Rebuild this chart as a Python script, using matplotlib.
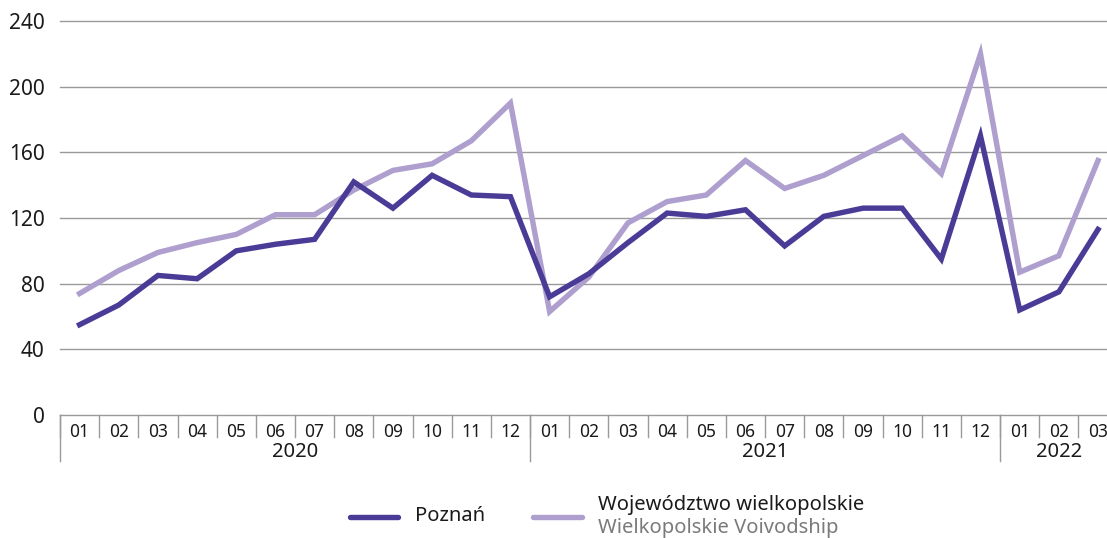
import matplotlib
matplotlib.use('Agg')
import matplotlib.pyplot as plt
from matplotlib import transforms
from matplotlib.lines import Line2D

plt.rcParams['font.family'] = ['Noto Sans', 'DejaVu Sans']

# dane
months = ['01', '02', '03', '04', '05', '06', '07', '08', '09', '10', '11', '12',
          '01', '02', '03', '04', '05', '06', '07', '08', '09', '10', '11', '12',
          '01', '02', '03']
years = ['2020', '2021', '2022']
year_len = [12, 12, 3]
poznan = [55, 67, 85, 83, 100, 104, 107, 142, 126, 146, 134, 133,
          72, 86, 105, 123, 121, 125, 103, 121, 126, 126, 95, 170,
          64, 75, 113]
wojewodztwo = [74, 88, 99, 105, 110, 122, 122, 137, 149, 153, 167, 190,
               63, 84, 117, 130, 134, 155, 138, 146, 158, 170, 147, 220,
               87, 97, 155]
yticks = [0, 40, 80, 120, 160, 200, 240]

dark = '#4a3b97'
light = '#ae9fcf'
grid_c = '#9a9a9a'

W, H = 1107, 538
fig = plt.figure(figsize=(W / 100, H / 100), dpi=100)
cw = 39.17
ax = fig.add_axes([60 / W, 1 - 415 / H, 27 * cw / W, (415 - 21) / H])

n = len(months)
x = [i + 0.5 for i in range(n)]
ax.plot(x, wojewodztwo, color=light, lw=3.9, solid_joinstyle='miter', zorder=3)
ax.plot(x, poznan, color=dark, lw=3.9, solid_joinstyle='miter', zorder=4)

ax.set_xlim(0, n)
ax.set_ylim(0, 240)
ax.set_yticks(yticks)
ax.set_xticks([])
ax.tick_params(axis='y', length=0, pad=11, labelsize=15, colors='#1a1a1a')
for s in ax.spines.values():
    s.set_visible(False)
for v in yticks:
    ax.axhline(v, color=grid_c, lw=1.0, zorder=1, clip_on=False)

# os X - miesiace i lata
tr = transforms.blended_transform_factory(ax.transData, fig.transFigure)
def fy(py):
    return 1 - py / H

for i in range(n + 1):
    ax.add_line(Line2D([i, i], [fy(415), fy(437)], transform=tr, color=grid_c,
                       lw=1.0, clip_on=False))
for i, m in enumerate(months):
    ax.text(i + 0.5, fy(432), m, transform=tr, ha='center', va='center',
            fontsize=12.5, color='#1a1a1a')
start = 0
for y, L in zip(years, year_len):
    ax.add_line(Line2D([start, start], [fy(415), fy(461)], transform=tr,
                       color=grid_c, lw=1.0, clip_on=False))
    ax.text(start + L / 2, fy(452), y, transform=tr, ha='center', va='center',
            fontsize=14.5, color='#1a1a1a')
    start += L

# legenda
fig.add_artist(Line2D([350 / W, 398 / W], [fy(517), fy(517)], color=dark, lw=3.9,
                      solid_capstyle='round'))
fig.text(415 / W, fy(516), 'Poznań', ha='left', va='center', fontsize=14.5,
         color='#1a1a1a')
fig.add_artist(Line2D([533 / W, 582 / W], [fy(517), fy(517)], color=light, lw=3.9,
                      solid_capstyle='round'))
fig.text(598 / W, fy(505), 'Województwo wielkopolskie', ha='left', va='center',
         fontsize=14.5, color='#1a1a1a')
fig.text(598 / W, fy(528), 'Wielkopolskie Voivodship', ha='left', va='center',
         fontsize=14.5, color='#7a7a7a')

fig.savefig('out.png', dpi=100)
